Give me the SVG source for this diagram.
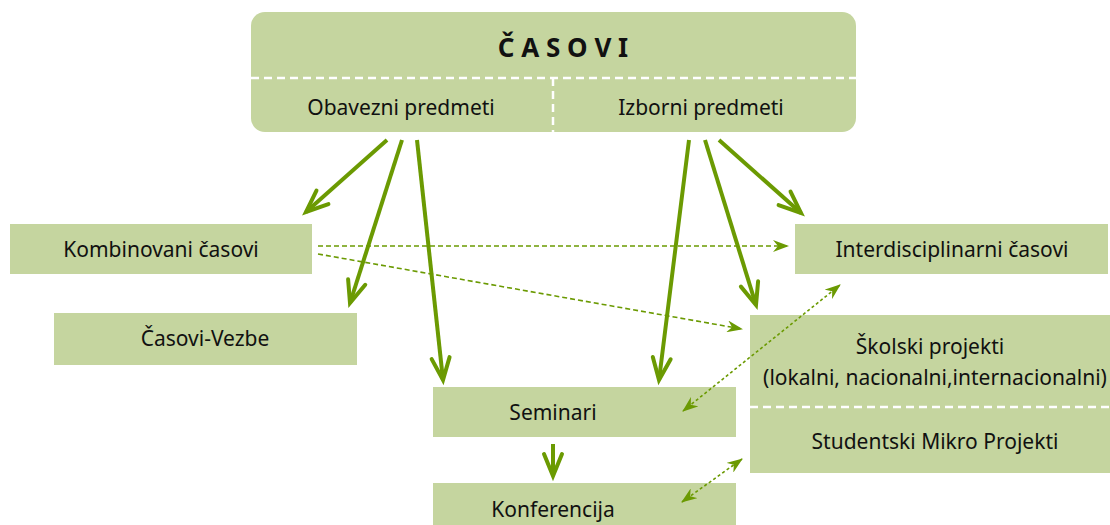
<svg xmlns="http://www.w3.org/2000/svg" width="1110" height="525" viewBox="0 0 1110 525">
<style>
.box{fill:#c5d59f}
.sep{stroke:#ffffff;stroke-width:2.5;stroke-dasharray:8 5;fill:none}
.t{font-family:"Noto Sans","Open Sans",sans-serif;font-size:21px;fill:#111;text-anchor:middle}
.title{font-family:"Noto Sans","Open Sans",sans-serif;font-size:26px;font-weight:bold;fill:#111;text-anchor:middle}
.solid{stroke:#6b9a02;stroke-width:4;fill:none;marker-end:url(#open)}
.dash{stroke:#6b9a02;stroke-width:1.6;fill:none;stroke-dasharray:5 3;marker-end:url(#tri)}
.dot{stroke:#6b9a02;stroke-width:1.6;fill:none;stroke-dasharray:3 2.5;marker-end:url(#tri);marker-start:url(#tri)}
</style>
<defs>
<marker id="open" viewBox="-2 -2 28 22" refX="22" refY="9" markerWidth="28" markerHeight="22" markerUnits="userSpaceOnUse" orient="auto" overflow="visible">
<path d="M0,0 L22,9 L0,18" fill="none" stroke="#6b9a02" stroke-width="4" stroke-linecap="round" stroke-linejoin="miter"/>
</marker>
<marker id="tri" viewBox="0 0 16 12" refX="15" refY="6" markerWidth="16" markerHeight="12" markerUnits="userSpaceOnUse" orient="auto-start-reverse">
<path d="M0,0 L16,6 L0,12 L5,6 z" fill="#6b9a02"/>
</marker>
</defs>
<g id="casovi">
<rect class="box" x="251" y="12" width="605" height="120" rx="14"/>
<line class="sep" x1="251" y1="78" x2="856" y2="78"/>
<line class="sep" x1="553" y1="78" x2="553" y2="132"/>
<text class="title" x="563" y="57">Č A S O V I</text>
<text class="t" x="401" y="115">Obavezni predmeti</text>
<text class="t" x="701" y="115">Izborni predmeti</text>
</g>
<g id="kombinovani">
<rect class="box" x="10" y="224" width="302" height="50"/>
<text class="t" x="161" y="257">Kombinovani časovi</text>
</g>
<g id="vezbe">
<rect class="box" x="54" y="313" width="303" height="52"/>
<text class="t" x="205" y="346">Časovi-Vezbe</text>
</g>
<g id="interdisciplinarni">
<rect class="box" x="795" y="224" width="313" height="50"/>
<text class="t" x="952" y="257">Interdisciplinarni časovi</text>
</g>
<g id="skolski">
<rect class="box" x="750" y="315" width="360" height="158"/>
<line class="sep" x1="750" y1="407" x2="1110" y2="407"/>
<text class="t" x="930" y="354">Školski projekti</text>
<text class="t" x="935" y="385">(lokalni, nacionalni,internacionalni)</text>
<text class="t" x="935" y="449">Studentski Mikro Projekti</text>
</g>
<g id="seminari">
<rect class="box" x="433" y="387" width="303" height="50"/>
<text class="t" x="553" y="420">Seminari</text>
</g>
<g id="konferencija">
<rect class="box" x="433" y="483" width="303" height="42"/>
<text class="t" x="553" y="517">Konferencija</text>
</g>
<g id="connectors">
<line class="solid" x1="387" y1="140" x2="306" y2="212"/>
<line class="solid" x1="402" y1="140" x2="350" y2="303"/>
<line class="solid" x1="417" y1="140" x2="443" y2="380"/>
<line class="solid" x1="689" y1="140" x2="659" y2="380"/>
<line class="solid" x1="705" y1="140" x2="756" y2="305"/>
<line class="solid" x1="719" y1="140" x2="801" y2="213"/>
<line class="solid" x1="553" y1="444" x2="553" y2="476"/>
<line class="dash" x1="318" y1="246" x2="788" y2="246"/>
<line class="dash" x1="318" y1="254" x2="742" y2="329"/>
<line class="dot" x1="683" y1="411" x2="840" y2="285"/>
<line class="dot" x1="682" y1="502" x2="742" y2="459"/>
</g>
</svg>
